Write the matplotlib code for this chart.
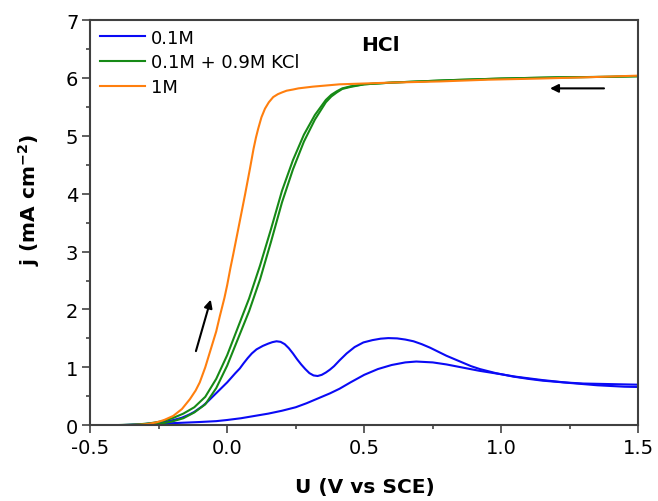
import matplotlib.pyplot as plt
from matplotlib.ticker import MultipleLocator

# 1M HCl (single trace)
orange_x = [-0.5, -0.4, -0.35, -0.32, -0.29, -0.257, -0.23, -0.197, -0.165, -0.136,
            -0.115, -0.10, -0.08, -0.06, -0.04, -0.027, -0.01, 0.0, 0.012, 0.022,
            0.04, 0.065, 0.083, 0.096, 0.105, 0.113, 0.125, 0.138, 0.152, 0.168,
            0.185, 0.2, 0.217, 0.24, 0.26, 0.313, 0.41, 0.6, 0.776, 0.95,
            1.14, 1.3, 1.5]
orange_j = [0, 0, 0.002, 0.008, 0.02, 0.05, 0.09, 0.16, 0.28, 0.45,
            0.6, 0.74, 1.0, 1.31, 1.62, 1.88, 2.2, 2.42, 2.72, 2.95,
            3.38, 3.98, 4.43, 4.77, 4.97, 5.12, 5.32, 5.47, 5.58, 5.67,
            5.72, 5.75, 5.78, 5.80, 5.82, 5.85, 5.89, 5.92, 5.94, 5.97,
            5.99, 6.01, 6.04]

# 0.1M HCl + 0.9M KCl (two traces)
green_x = [-0.5, -0.4, -0.32, -0.28, -0.24, -0.2, -0.16, -0.12, -0.08, -0.04,
           0.0, 0.04, 0.08, 0.12, 0.16, 0.2, 0.24, 0.28, 0.32, 0.36,
           0.38, 0.40, 0.42, 0.45, 0.5, 0.6, 0.8, 1.0, 1.2, 1.4, 1.5]
green_rev = [0, 0.002, 0.015, 0.035, 0.065, 0.12, 0.2, 0.31, 0.49, 0.8,
             1.21, 1.7, 2.19, 2.76, 3.39, 4.05, 4.58, 5.02, 5.36, 5.62,
             5.71, 5.77, 5.82, 5.855, 5.89, 5.92, 5.96, 5.99, 6.01, 6.02, 6.03]
green_fwd = [0, 0, 0.006, 0.015, 0.03, 0.065, 0.12, 0.22, 0.36, 0.64,
             1.03, 1.5, 1.97, 2.52, 3.17, 3.85, 4.42, 4.9, 5.28, 5.58,
             5.68, 5.75, 5.81, 5.845, 5.89, 5.92, 5.96, 5.99, 6.01, 6.02, 6.03]

# 0.1M HCl (lower and upper branch of the loop)
blue_lo_x = [-0.5, -0.4, -0.3, -0.2, -0.1, -0.04, 0.0, 0.05, 0.1, 0.15,
             0.2, 0.25, 0.29, 0.33, 0.375, 0.41, 0.45, 0.5, 0.55, 0.6,
             0.65, 0.69, 0.75, 0.8, 0.86, 0.92, 1.0, 1.05, 1.15, 1.25,
             1.35, 1.45, 1.5]
blue_lo_j = [0, 0, 0.015, 0.035, 0.055, 0.07, 0.09, 0.12, 0.16, 0.20,
             0.25, 0.31, 0.38, 0.46, 0.55, 0.63, 0.74, 0.87, 0.97, 1.04,
             1.085, 1.10, 1.085, 1.05, 0.995, 0.94, 0.88, 0.84, 0.78, 0.73,
             0.69, 0.665, 0.66]
blue_hi_x = [1.5, 1.4, 1.3, 1.226, 1.15, 1.1, 1.044, 0.98, 0.922, 0.89,
             0.86, 0.83, 0.8, 0.77, 0.74, 0.71, 0.68, 0.65, 0.62, 0.588,
             0.56, 0.53, 0.497, 0.465, 0.436, 0.41, 0.39, 0.375, 0.36, 0.345,
             0.33, 0.315, 0.30, 0.285, 0.27, 0.255, 0.24, 0.225, 0.21, 0.195,
             0.18, 0.165, 0.15, 0.13, 0.107, 0.09, 0.075, 0.06, 0.046, 0.03,
             0.015, 0.0, -0.015, -0.03, -0.045, -0.06, -0.075, -0.09, -0.105, -0.12,
             -0.136, -0.15, -0.165, -0.18, -0.196, -0.215, -0.23, -0.26, -0.3, -0.35,
             -0.4, -0.5]
blue_hi_j = [0.70, 0.71, 0.72, 0.74, 0.77, 0.80, 0.84, 0.90, 0.97, 1.02,
             1.08, 1.14, 1.20, 1.27, 1.34, 1.40, 1.45, 1.48, 1.50, 1.505,
             1.495, 1.47, 1.43, 1.35, 1.24, 1.12, 1.02, 0.96, 0.91, 0.87,
             0.85, 0.86, 0.90, 0.97, 1.05, 1.14, 1.24, 1.33, 1.40, 1.44,
             1.45, 1.435, 1.41, 1.37, 1.31, 1.24, 1.16, 1.07, 0.98, 0.90,
             0.82, 0.74, 0.67, 0.60, 0.53, 0.46, 0.39, 0.33, 0.28, 0.23,
             0.19, 0.16, 0.13, 0.11, 0.09, 0.07, 0.06, 0.04, 0.02, 0.005,
             0, 0]

# scan direction arrows (tail -> head)
arrow_up = [(-0.114, 1.28), (-0.060, 2.17)]
arrow_left = [(1.375, 5.82), (1.178, 5.82)]

fig = plt.figure(figsize=(6.58, 5.02), dpi=100)
ax = fig.add_axes([0.137, 0.151, 0.833, 0.807])

lw = 1.5
ax.plot(blue_lo_x, blue_lo_j, color='#0a0af5', lw=lw, label='0.1M')
ax.plot(blue_hi_x, blue_hi_j, color='#0a0af5', lw=lw)
ax.plot(green_x, green_rev, color='#168a16', lw=lw, label='0.1M + 0.9M KCl')
ax.plot(green_x, green_fwd, color='#168a16', lw=lw)
ax.plot(orange_x, orange_j, color='#ff7f0e', lw=lw, label='1M')

for tail, head in [arrow_up, arrow_left]:
    ax.annotate('', xy=head, xytext=tail,
                arrowprops=dict(arrowstyle='-|>', color='black', lw=1.5,
                                mutation_scale=12, shrinkA=0, shrinkB=0))

ax.text(0.558, 6.57, 'HCl', fontsize=14.5, fontweight='bold', ha='center', va='center')

ax.set_xlim(-0.5, 1.5)
ax.set_ylim(0, 7)
ax.xaxis.set_major_locator(MultipleLocator(0.5))
ax.xaxis.set_minor_locator(MultipleLocator(0.25))
ax.yaxis.set_major_locator(MultipleLocator(1))
ax.yaxis.set_minor_locator(MultipleLocator(0.5))
ax.tick_params(which='major', direction='out', length=5.5, width=1.1, labelsize=14,
               color='#333333', labelcolor='black')
ax.tick_params(which='minor', direction='out', length=3, width=1.1, color='#333333')
ax.tick_params(axis='x', pad=4)
ax.tick_params(axis='y', pad=3)
for s in ax.spines.values():
    s.set_linewidth(1.5)
    s.set_color('#404040')

ax.set_xticks([-0.5, 0.0, 0.5, 1.0, 1.5])
ax.set_xticklabels(['-0.5', '0.0', '0.5', '1.0', '1.5'])

ax.set_xlabel('U (V vs SCE)', fontsize=14.5, fontweight='bold')
ax.xaxis.set_label_coords(0.502, -0.128)
ax.set_ylabel('j (mA cm$^{\\mathbf{-2}}$)', fontsize=14.5, fontweight='bold')
ax.yaxis.set_label_coords(-0.111, 0.558)
ax.yaxis.label.set_va('center')

ax.legend(loc='upper left', bbox_to_anchor=(0.018, 0.979), fontsize=13, frameon=False,
          handlelength=2.5, handletextpad=0.3, labelspacing=0.37,
          borderaxespad=0, borderpad=0)

plt.savefig('out.png', dpi=100)
